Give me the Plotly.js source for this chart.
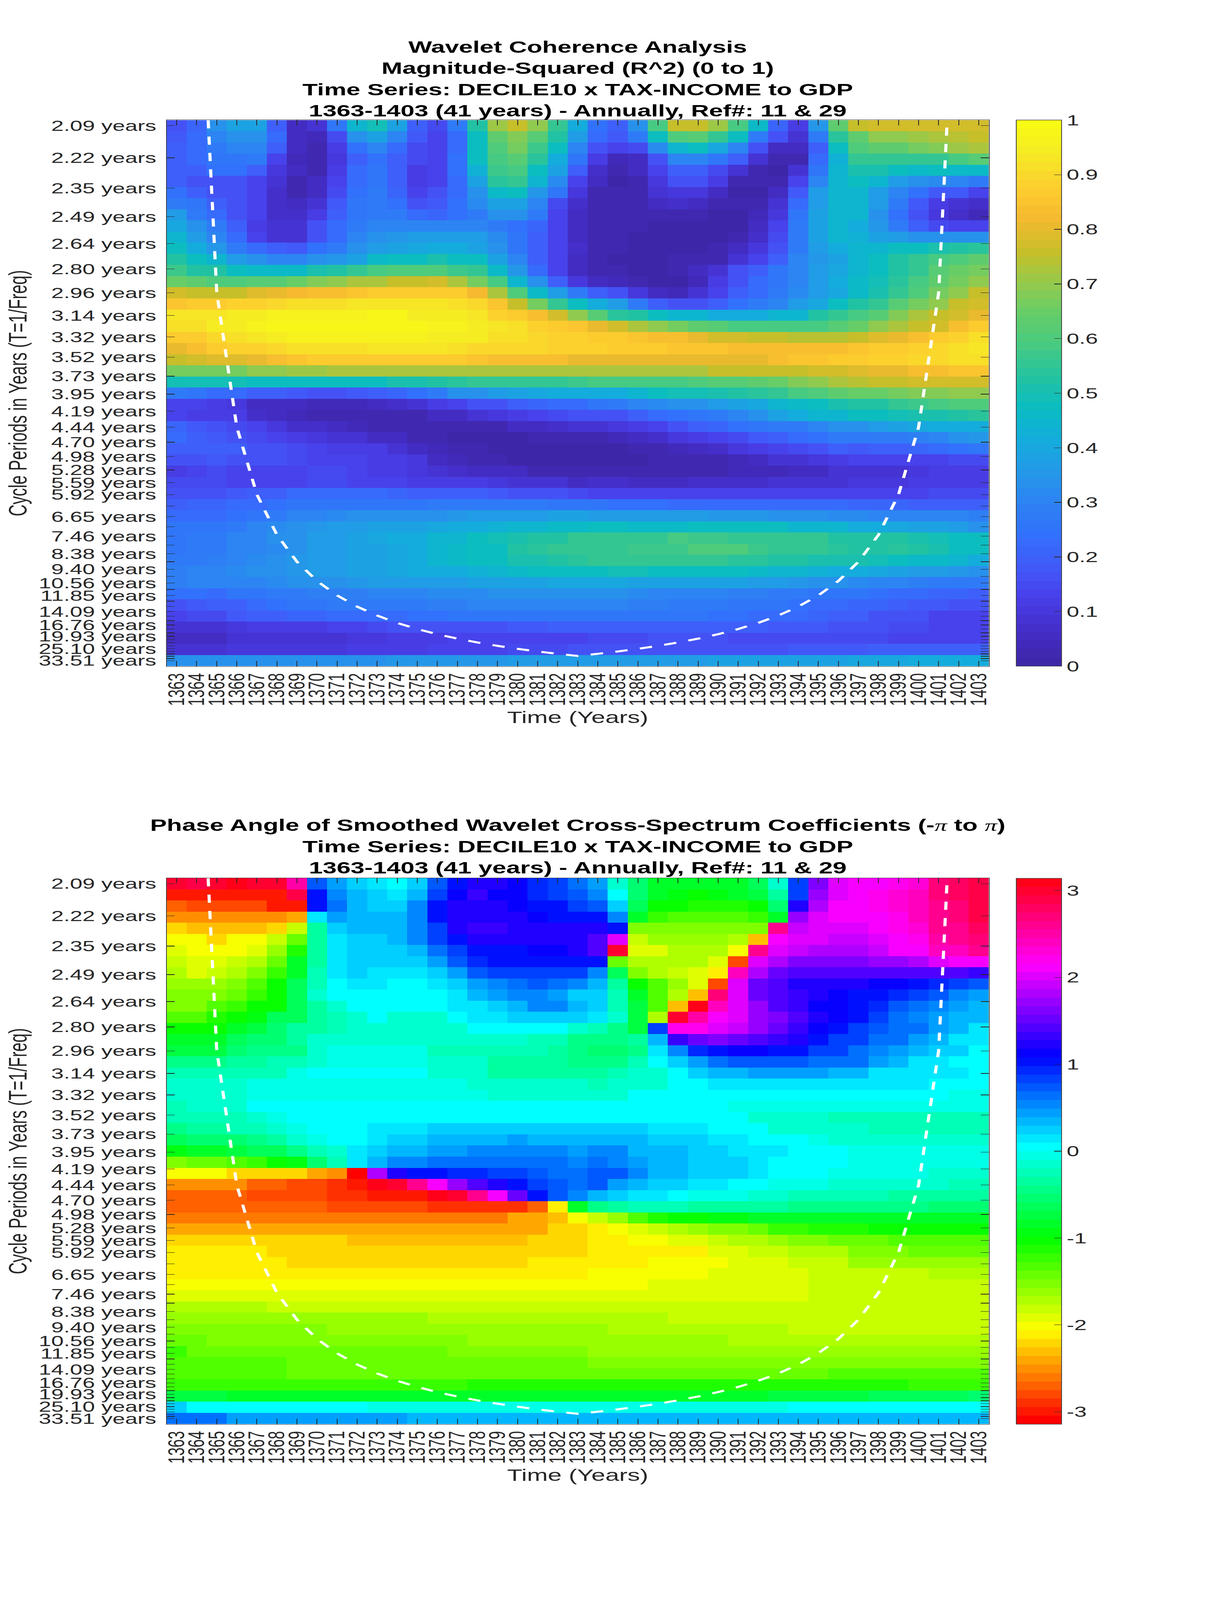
<!DOCTYPE html>
<html>
<head>
<meta charset="utf-8">
<script src="https://cdn.plot.ly/plotly-3.0.1.min.js"></script>
<style>html,body{margin:0;padding:0;background:#fff;overflow:hidden}</style>
</head>
<body>
<div id="chart" style="width:3125px;height:6252px;transform-origin:0 0"></div>
<script>
const years=[1363,1364,1365,1366,1367,1368,1369,1370,1371,1372,1373,1374,1375,1376,1377,1378,1379,1380,1381,1382,1383,1384,1385,1386,1387,1388,1389,1390,1391,1392,1393,1394,1395,1396,1397,1398,1399,1400,1401,1402,1403];
const periods=[2.094,2.219,2.351,2.491,2.639,2.796,2.962,3.138,3.325,3.523,3.732,3.954,4.189,4.438,4.702,4.982,5.278,5.592,5.925,6.277,6.650,7.046,7.465,7.909,8.378,8.876,9.404,9.963,10.556,11.183,11.848,12.553,13.299,14.090,14.928,15.816,16.756,17.752,18.808,19.927,21.112,22.368,23.698,25.107,26.600,28.182,29.858,31.634,33.515];
const periodLabels=["2.09 years","2.22 years","2.35 years","2.49 years","2.64 years","2.80 years","2.96 years","3.14 years","3.32 years","3.52 years","3.73 years","3.95 years","4.19 years","4.44 years","4.70 years","4.98 years","5.28 years","5.59 years","5.92 years","","6.65 years","","7.46 years","","8.38 years","","9.40 years","","10.56 years","","11.85 years","","","14.09 years","","","16.76 years","","","19.93 years","","","","25.10 years","","","","","33.51 years"];
const coiYears=[1364.57,1365,1366,1367,1368,1369,1370,1371,1372,1373,1374,1375,1376,1377,1378,1379,1380,1381,1382,1383,1384,1385,1386,1387,1388,1389,1390,1391,1392,1393,1394,1395,1396,1397,1398,1399,1400,1401,1402];
const coiPeriods=[2.074,2.96,4.44,5.92,7.40,8.88,10.36,11.84,13.32,14.80,16.28,17.76,19.24,20.72,22.20,23.68,25.16,26.64,28.12,29.60,28.12,26.64,25.16,23.68,22.20,20.72,19.24,17.76,16.28,14.80,13.32,11.84,10.36,8.88,7.40,5.92,4.44,2.96,1.48];
const coherence=[
[.17,.21,.33,.39,.38,.2,.05,.08,.25,.45,.49,.38,.19,.15,.27,.53,.71,.76,.7,.56,.41,.24,.2,.33,.59,.75,.76,.71,.58,.46,.21,.11,.35,.63,.76,.77,.77,.77,.77,.78,.78],
[.18,.22,.3,.34,.33,.22,.05,.04,.15,.34,.38,.3,.18,.13,.22,.47,.63,.68,.62,.52,.36,.22,.18,.28,.47,.6,.62,.55,.47,.27,.17,.08,.28,.54,.64,.69,.69,.71,.73,.74,.76],
[.19,.23,.28,.3,.3,.19,.06,.02,.12,.24,.3,.22,.15,.13,.23,.47,.6,.66,.57,.47,.31,.17,.13,.15,.32,.44,.47,.4,.31,.17,.06,.05,.2,.47,.6,.63,.63,.66,.68,.71,.72],
[.19,.23,.25,.26,.27,.13,.04,.02,.1,.2,.24,.2,.15,.14,.24,.47,.58,.61,.54,.42,.26,.12,.04,.05,.17,.3,.3,.25,.2,.08,.02,.03,.22,.43,.55,.56,.56,.55,.56,.59,.62],
[.2,.2,.24,.24,.2,.1,.05,.03,.12,.22,.26,.2,.12,.13,.24,.43,.57,.59,.48,.38,.2,.07,.03,.05,.13,.2,.2,.15,.08,.03,.01,.09,.26,.45,.5,.5,.47,.46,.47,.46,.46],
[.19,.16,.16,.17,.14,.08,.03,.05,.14,.22,.26,.2,.11,.13,.22,.39,.54,.55,.45,.32,.14,.05,.01,.03,.1,.16,.16,.11,.03,.02,.03,.14,.31,.45,.47,.44,.37,.33,.32,.3,.28],
[.24,.2,.17,.17,.14,.07,.03,.06,.15,.24,.27,.21,.14,.16,.22,.33,.46,.47,.35,.25,.1,.03,.02,.02,.08,.1,.1,.06,.01,.01,.06,.18,.36,.45,.45,.37,.3,.24,.18,.18,.14],
[.28,.25,.2,.17,.13,.07,.06,.09,.18,.26,.27,.24,.17,.18,.24,.32,.38,.38,.31,.15,.07,.03,.02,.02,.06,.07,.06,.03,.02,.03,.09,.22,.37,.45,.45,.36,.27,.18,.11,.09,.07],
[.36,.28,.22,.17,.13,.07,.07,.12,.2,.26,.27,.27,.23,.21,.24,.28,.33,.33,.27,.13,.05,.03,.02,.02,.03,.03,.02,.01,.01,.04,.1,.25,.38,.45,.44,.34,.24,.16,.1,.07,.04],
[.4,.33,.27,.2,.12,.08,.08,.16,.22,.28,.31,.31,.31,.31,.31,.31,.27,.24,.21,.13,.05,.03,.02,.02,.01,.01,.01,.01,.01,.05,.13,.28,.39,.45,.42,.35,.28,.2,.15,.13,.13],
[.44,.37,.3,.22,.14,.09,.09,.17,.23,.3,.34,.35,.36,.36,.36,.37,.32,.26,.2,.13,.05,.03,.02,.01,.01,.01,.01,.01,.02,.07,.15,.28,.39,.45,.43,.39,.36,.34,.34,.33,.33],
[.48,.42,.35,.28,.23,.19,.18,.24,.28,.33,.37,.39,.4,.41,.41,.39,.34,.26,.2,.14,.07,.03,.02,.01,.01,.01,.01,.03,.05,.1,.17,.28,.36,.41,.44,.45,.47,.48,.51,.53,.54],
[.53,.47,.45,.37,.33,.3,.3,.33,.35,.39,.46,.47,.48,.5,.48,.47,.38,.3,.2,.13,.06,.03,.01,.01,.01,.02,.03,.03,.08,.14,.2,.3,.35,.38,.44,.47,.52,.55,.58,.6,.63],
[.57,.52,.52,.47,.46,.46,.46,.5,.53,.55,.59,.6,.6,.6,.57,.55,.46,.35,.22,.13,.06,.03,.02,.01,.01,.02,.05,.09,.16,.2,.26,.31,.36,.4,.45,.47,.53,.56,.62,.65,.67],
[.65,.63,.6,.6,.62,.62,.65,.68,.7,.73,.73,.76,.76,.77,.72,.66,.58,.45,.33,.2,.1,.06,.04,.02,.01,.01,.04,.11,.16,.22,.26,.31,.37,.42,.46,.49,.54,.59,.64,.66,.69],
[.77,.76,.76,.76,.79,.8,.82,.83,.84,.85,.86,.87,.87,.87,.86,.82,.72,.6,.46,.37,.27,.2,.16,.1,.05,.04,.08,.13,.19,.23,.27,.32,.37,.4,.46,.51,.55,.6,.66,.7,.75],
[.85,.86,.87,.88,.89,.9,.92,.92,.92,.93,.93,.93,.93,.93,.92,.9,.85,.76,.66,.55,.48,.42,.36,.28,.2,.17,.17,.2,.24,.27,.31,.37,.4,.47,.52,.56,.62,.66,.7,.75,.77],
[.93,.93,.93,.94,.94,.96,.96,.96,.96,.96,.97,.97,.95,.95,.95,.93,.89,.86,.84,.78,.7,.62,.54,.52,.48,.45,.44,.42,.42,.42,.44,.45,.52,.55,.58,.62,.68,.72,.76,.78,.81],
[.91,.92,.94,.94,.96,.97,.97,.98,.98,.98,.98,.98,.97,.96,.96,.94,.93,.91,.89,.87,.85,.8,.77,.72,.69,.66,.63,.61,.59,.58,.58,.58,.58,.61,.65,.69,.73,.76,.77,.83,.86],
[.86,.87,.9,.91,.93,.95,.96,.96,.96,.96,.96,.96,.96,.95,.95,.94,.92,.91,.9,.89,.88,.87,.87,.85,.84,.83,.81,.78,.77,.76,.75,.74,.74,.74,.76,.79,.81,.84,.86,.88,.92],
[.81,.84,.87,.88,.88,.9,.91,.92,.92,.92,.93,.93,.93,.93,.91,.9,.9,.9,.9,.89,.89,.88,.87,.86,.86,.85,.85,.85,.84,.83,.83,.83,.84,.84,.85,.86,.87,.88,.9,.92,.93],
[.76,.77,.79,.79,.81,.84,.85,.87,.87,.87,.87,.87,.87,.87,.86,.85,.84,.84,.83,.83,.81,.81,.81,.8,.8,.8,.8,.8,.81,.81,.83,.85,.85,.86,.87,.89,.89,.9,.9,.91,.91],
[.66,.66,.67,.67,.7,.7,.71,.71,.72,.72,.72,.73,.73,.73,.73,.73,.73,.73,.73,.73,.72,.73,.73,.73,.73,.73,.73,.75,.75,.76,.76,.76,.77,.78,.79,.81,.81,.84,.84,.85,.85],
[.49,.49,.49,.49,.48,.48,.47,.47,.47,.48,.48,.5,.5,.52,.54,.55,.56,.56,.56,.56,.57,.58,.58,.59,.59,.59,.6,.62,.62,.64,.65,.68,.7,.72,.74,.75,.76,.77,.77,.77,.77],
[.28,.25,.22,.22,.2,.2,.18,.17,.17,.18,.19,.21,.24,.27,.33,.34,.36,.38,.4,.42,.42,.42,.42,.45,.47,.49,.49,.51,.53,.54,.55,.58,.6,.63,.65,.65,.67,.68,.68,.69,.7],
[.14,.13,.12,.1,.06,.05,.05,.04,.04,.04,.05,.07,.09,.12,.14,.16,.17,.2,.21,.22,.23,.26,.27,.3,.32,.34,.34,.37,.39,.4,.44,.46,.47,.5,.52,.53,.55,.57,.59,.6,.6],
[.13,.12,.12,.11,.07,.05,.04,.03,.02,.02,.02,.03,.03,.05,.06,.08,.1,.11,.13,.15,.17,.17,.17,.2,.22,.24,.26,.28,.31,.34,.38,.41,.44,.45,.47,.48,.49,.5,.5,.52,.54],
[.21,.18,.17,.15,.14,.1,.07,.07,.05,.04,.03,.02,.02,.02,.02,.03,.03,.05,.05,.07,.08,.08,.1,.12,.14,.17,.2,.21,.24,.25,.27,.28,.3,.33,.34,.37,.38,.4,.41,.42,.42],
[.22,.2,.18,.17,.15,.14,.12,.1,.09,.08,.06,.05,.03,.02,.01,.01,.01,.01,.02,.02,.03,.03,.04,.05,.07,.1,.12,.14,.15,.18,.2,.22,.24,.27,.27,.27,.28,.29,.31,.33,.35],
[.2,.2,.2,.19,.17,.16,.15,.13,.12,.12,.11,.08,.06,.04,.02,.02,.01,.01,.01,.01,.01,.01,.01,.03,.03,.04,.05,.07,.1,.11,.14,.15,.17,.19,.18,.19,.2,.21,.23,.24,.25],
[.17,.17,.18,.17,.16,.16,.15,.14,.14,.13,.12,.11,.1,.06,.04,.03,.03,.01,.01,.01,.01,.01,.01,.01,.02,.02,.02,.03,.04,.06,.08,.09,.1,.12,.13,.13,.14,.14,.14,.15,.15],
[.12,.14,.15,.13,.13,.13,.14,.15,.15,.13,.12,.11,.1,.09,.07,.06,.05,.05,.03,.03,.02,.02,.03,.03,.03,.03,.03,.03,.04,.04,.04,.06,.06,.09,.08,.09,.09,.1,.11,.11,.12],
[.15,.15,.15,.14,.14,.14,.14,.15,.15,.14,.14,.13,.12,.12,.11,.11,.1,.09,.09,.08,.06,.07,.07,.06,.06,.06,.07,.07,.07,.07,.08,.08,.08,.09,.1,.1,.1,.11,.11,.12,.12],
[.17,.17,.17,.18,.19,.2,.22,.22,.22,.22,.22,.21,.2,.2,.2,.19,.18,.17,.16,.16,.15,.14,.13,.13,.13,.13,.13,.13,.13,.13,.14,.14,.14,.14,.14,.14,.14,.14,.15,.15,.15],
[.2,.21,.21,.22,.23,.24,.26,.26,.26,.26,.26,.26,.26,.27,.27,.27,.27,.27,.27,.26,.25,.25,.24,.24,.24,.23,.23,.23,.23,.22,.22,.22,.22,.22,.21,.21,.21,.2,.2,.2,.19],
[.22,.22,.23,.24,.26,.28,.3,.31,.32,.33,.34,.34,.34,.34,.35,.36,.37,.37,.37,.38,.38,.37,.36,.36,.36,.36,.36,.35,.35,.35,.34,.34,.33,.32,.32,.31,.31,.3,.3,.3,.29],
[.25,.25,.26,.27,.3,.32,.34,.35,.36,.37,.38,.39,.39,.4,.41,.41,.43,.44,.45,.46,.46,.47,.47,.46,.46,.46,.47,.47,.47,.47,.47,.45,.45,.44,.42,.41,.4,.38,.38,.36,.34],
[.26,.27,.28,.3,.31,.33,.34,.36,.37,.38,.4,.41,.42,.45,.45,.47,.49,.51,.52,.53,.55,.56,.56,.56,.56,.58,.57,.57,.56,.56,.55,.55,.55,.53,.53,.53,.53,.5,.49,.47,.47],
[.25,.27,.28,.3,.31,.32,.34,.36,.37,.38,.39,.4,.42,.45,.46,.47,.48,.52,.54,.55,.56,.56,.56,.57,.57,.57,.6,.6,.6,.57,.56,.56,.55,.54,.53,.53,.54,.52,.51,.48,.47],
[.27,.28,.29,.31,.32,.33,.35,.36,.37,.38,.39,.4,.42,.45,.46,.47,.48,.5,.51,.53,.54,.55,.55,.55,.55,.55,.55,.55,.54,.54,.53,.53,.51,.5,.5,.49,.47,.46,.46,.44,.42],
[.29,.3,.31,.32,.33,.34,.35,.36,.37,.38,.39,.4,.41,.41,.42,.43,.45,.46,.47,.48,.48,.48,.49,.49,.48,.48,.47,.47,.47,.46,.45,.45,.43,.42,.41,.4,.39,.37,.36,.35,.34],
[.29,.3,.3,.31,.31,.32,.33,.33,.34,.35,.36,.36,.37,.37,.37,.38,.39,.39,.39,.4,.4,.4,.4,.39,.39,.38,.38,.38,.38,.37,.36,.35,.34,.33,.32,.31,.3,.29,.28,.28,.27],
[.24,.24,.23,.25,.26,.27,.28,.29,.29,.29,.3,.31,.31,.32,.32,.32,.33,.33,.33,.33,.33,.33,.33,.32,.31,.31,.31,.3,.29,.29,.28,.27,.26,.25,.25,.24,.23,.22,.21,.21,.2],
[.17,.18,.19,.2,.22,.24,.25,.26,.27,.27,.27,.28,.28,.29,.29,.3,.3,.3,.3,.3,.3,.3,.3,.29,.29,.28,.28,.27,.26,.26,.25,.24,.23,.22,.21,.21,.2,.18,.18,.17,.17],
[.14,.15,.15,.18,.19,.2,.21,.21,.22,.22,.23,.23,.24,.24,.25,.25,.25,.26,.26,.26,.26,.26,.26,.26,.25,.25,.25,.24,.24,.23,.22,.22,.21,.19,.19,.17,.16,.16,.14,.14,.13],
[.08,.08,.09,.1,.11,.11,.12,.12,.13,.14,.15,.16,.16,.17,.17,.17,.17,.18,.18,.19,.19,.19,.19,.19,.19,.19,.19,.19,.19,.19,.18,.18,.18,.17,.16,.16,.15,.15,.13,.13,.13],
[.06,.06,.06,.08,.08,.08,.08,.09,.09,.1,.1,.11,.11,.12,.13,.13,.14,.14,.14,.14,.14,.15,.15,.15,.16,.16,.16,.16,.15,.15,.15,.15,.15,.15,.15,.15,.14,.14,.14,.14,.14],
[.09,.09,.09,.1,.1,.1,.1,.1,.1,.11,.11,.12,.12,.13,.13,.14,.14,.15,.15,.15,.16,.17,.17,.17,.17,.17,.17,.17,.17,.17,.17,.18,.18,.18,.18,.19,.19,.19,.19,.19,.19],
[.33,.33,.33,.33,.33,.33,.33,.34,.34,.34,.34,.35,.35,.35,.35,.35,.35,.36,.36,.36,.36,.37,.37,.37,.37,.37,.37,.38,.38,.38,.38,.39,.39,.39,.4,.4,.4,.41,.41,.41,.41]
];
const phase=[
[3,2.9,3,3.05,3,3,2.5,.7,.4,.25,.12,.02,.22,.7,1.05,1.2,1.2,1.12,.98,.8,.6,.42,-.1,-.5,-.8,-.8,-.85,-.85,-.85,-.65,-.12,.85,1.65,2.05,2.1,2.15,2.2,2.35,2.7,2.75,2.85],
[-3,-3,-3,-3,-3,-3,2.9,1,.5,.3,.2,.1,.3,.85,1.12,1.3,1.17,1.1,.95,.85,.75,.5,0,-.55,-.8,-.9,-1,-.9,-.85,-.7,-.3,.85,1.7,2.05,2.15,2.2,2.3,2.45,2.7,2.8,2.88],
[-2.7,-2.8,-2.8,-2.8,-2.8,-2.95,-2.95,1.05,.6,.35,.22,.22,.52,1,1.25,1.25,1.2,1.12,1.05,1,.85,.7,.25,-.65,-1,-1.03,-1.1,-1.1,-1.1,-1.05,-.55,1.2,1.85,2.1,2.1,2.2,2.35,2.45,2.65,2.72,2.88],
[-2.5,-2.55,-2.55,-2.55,-2.55,-2.55,-2.45,.12,.42,.3,.3,.3,.52,1.05,1.25,1.25,1.2,1.2,1.15,1.05,1.05,1,.52,-.85,-1.2,-1.28,-1.3,-1.3,-1.3,-1.2,-.8,1.7,2,2.1,2.1,2.15,2.25,2.4,2.6,2.72,2.88],
[-2.2,-2.3,-2.3,-2.3,-2.3,-2.2,-1.8,-.3,.25,.3,.3,.3,.52,.8,1.2,1.3,1.3,1.25,1.25,1.25,1.25,1.2,1.05,-1.55,-1.55,-1.55,-1.55,-1.55,-1.55,-1.5,2.6,1.95,2,2.05,2.05,2.1,2.2,2.35,2.6,2.65,2.8],
[-2.05,-2.05,-2.2,-2.05,-2.05,-1.8,-1.4,-.35,.1,.22,.2,.3,.52,.8,1.05,1.2,1.2,1.2,1.2,1.2,1.2,1.4,2,-1.8,-1.65,-1.65,-1.65,-1.65,-1.7,-2.3,2.15,2,2,1.95,1.95,2.05,2.1,2.25,2.5,2.6,2.7],
[-1.9,-2.05,-2.05,-2.05,-1.88,-1.6,-1.1,-.38,.1,.2,.2,.2,.32,.65,.85,1.05,1.05,1.05,1.1,1.12,1.2,1.4,3,-1.95,-1.88,-1.7,-1.7,-1.7,-2.05,2.6,2,1.9,1.8,1.85,1.85,1.95,2.1,2.15,2.4,2.45,2.6],
[-1.85,-1.95,-1.95,-1.82,-1.7,-1.4,-.85,-.3,.1,.2,.2,.2,.2,.42,.75,.95,1.05,1.05,1.05,1.05,1.05,1.05,-1.4,-1.7,-1.7,-1.7,-1.7,-1.95,-2.75,2.05,1.8,1.65,1.6,1.6,1.6,1.7,1.75,1.85,2.05,2.15,2.15],
[-1.72,-1.88,-1.85,-1.7,-1.5,-1.2,-.8,-.25,.12,.28,.12,.12,.12,.25,.42,.7,.8,.8,.8,.8,.8,.5,-.65,-1.55,-1.68,-1.82,-1.95,-2.1,2.45,1.8,1.55,1.45,1.45,1.45,1.4,1.4,1.4,1.4,1.4,1.4,1.35],
[-1.6,-1.6,-1.6,-1.5,-1.3,-1.05,-.65,-.2,0,.12,.12,0,0,.12,.25,.42,.52,.68,.75,.6,.5,.3,-.3,-1.03,-1.35,-1.62,-1.88,-2.75,2,1.55,1.38,1.25,1.25,1.25,1.2,1.12,1.08,1.03,.95,.8,.72],
[-1.5,-1.5,-1.5,-1.42,-1.25,-1.05,-.65,-.18,0,0,0,0,0,0,.12,.3,.42,.5,.5,.45,.2,.25,-.25,-.8,-1.3,-1.7,-2.3,2.7,2,1.55,1.45,1.35,1.2,1.1,1.05,1.05,.95,.85,.7,.5,.42],
[-1.5,-1.5,-1.35,-1.25,-1.05,-1.05,-.65,-.35,-.15,0,0,0,0,0,.1,.1,.25,.35,.5,.5,.3,.25,-.2,-.7,-1.3,-2.3,3.05,2.45,2,1.7,1.45,1.3,1.15,1.1,1.03,.95,.75,.68,.52,.42,.3],
[-1.3,-1.3,-1.15,-1.03,-.95,-.65,-.6,-.3,-.25,-.1,0,-.1,-.1,-.1,0,.1,.1,.22,.22,.22,.22,.12,-.1,-.7,-1.7,2.95,2.5,2.1,2,1.75,1.6,1.45,1.25,1.15,1.03,.8,.62,.52,.42,.32,.3],
[-1.05,-1.05,-1,-.85,-.72,-.5,-.38,-.3,-.25,-.12,-.12,-.12,-.12,-.12,-.1,0,0,0,0,0,-.1,-.2,-.4,-.7,.8,2.25,2.2,2,1.95,1.75,1.5,1.3,1.1,1.03,.88,.72,.68,.6,.42,.38,.15],
[-.85,-.8,-.8,-.65,-.55,-.5,-.38,-.15,-.15,-.1,-.1,-.1,-.1,-.1,-.1,-.1,-.1,-.1,-.25,-.25,-.4,-.42,-.42,-.3,.35,1.3,1.5,1.62,1.5,1.42,1.35,1.25,1.05,.85,.8,.68,.6,.42,.35,.18,.18],
[-.7,-.7,-.7,-.55,-.4,-.4,-.4,-.1,-.08,-.08,-.08,-.08,-.08,-.22,-.22,-.22,-.22,-.22,-.28,-.3,-.45,-.5,-.5,-.4,.1,.5,.9,1.05,1.12,1.1,1.05,1,.88,.8,.62,.52,.42,.35,.25,.25,.08],
[-.45,-.45,-.45,-.3,-.3,-.25,-.2,-.1,-.08,-.08,-.08,-.08,-.08,-.15,-.15,-.15,-.35,-.35,-.35,-.35,-.45,-.42,-.42,-.25,0,.22,.42,.68,.72,.78,.78,.72,.65,.6,.6,.48,.35,.18,.18,.08,.08],
[-.28,-.28,-.2,-.2,-.2,-.2,-.02,0,0,0,0,0,0,-.12,-.12,-.12,-.35,-.35,-.35,-.35,-.35,-.35,-.2,-.1,-.1,.02,.25,.35,.35,.42,.42,.42,.42,.33,.33,.18,.18,.18,.1,.1,0],
[-.15,-.15,-.15,-.15,-.05,-.05,-.05,-.05,-.05,-.05,-.05,-.05,-.05,-.05,-.05,-.15,-.15,-.15,-.15,-.15,-.15,-.25,-.1,-.1,-.1,0,0,.12,.12,.12,.12,.12,.12,.12,.12,.12,.12,.12,0,0,0],
[-.12,-.12,-.12,-.12,-.03,-.03,-.03,-.03,-.03,-.03,-.03,-.03,-.03,-.03,-.03,-.03,-.12,-.12,-.12,-.12,-.12,-.12,-.12,0,0,0,0,0,0,0,0,0,0,0,0,0,0,0,0,-.03,-.03],
[-.25,-.1,-.1,-.1,0,0,0,0,0,0,.05,.05,.05,.05,.05,.05,.05,.05,.05,.05,.05,0,0,0,0,0,0,0,-.08,-.08,-.08,-.08,-.08,-.08,-.08,-.08,-.08,-.08,-.08,-.08,-.08],
[-.28,-.2,-.2,-.2,-.1,-.08,0,0,0,.02,.02,.02,.08,.08,.08,.08,.08,.08,.08,.08,.08,.08,.08,.08,.08,0,0,0,0,-.15,-.15,-.15,-.15,-.28,-.28,-.28,-.28,-.28,-.28,-.28,-.28],
[-.42,-.35,-.35,-.28,-.25,-.1,-.02,0,0,0,.12,.12,.12,.2,.2,.2,.2,.2,.2,.2,.2,.2,.2,.2,.12,.12,.12,0,0,0,-.12,-.12,-.12,-.12,-.12,-.28,-.28,-.28,-.28,-.28,-.28],
[-.65,-.55,-.55,-.55,-.45,-.3,-.15,-.05,0,0,.15,.25,.25,.33,.33,.33,.33,.4,.3,.3,.3,.33,.33,.33,.28,.28,.28,.12,.12,.02,0,0,-.05,-.1,-.12,-.12,-.12,-.12,-.12,-.12,-.12],
[-.9,-.85,-.8,-.7,-.65,-.6,-.45,-.25,-.1,.15,.25,.35,.35,.42,.42,.5,.5,.5,.5,.5,.42,.5,.5,.35,.35,.35,.25,.25,.12,.12,.1,0,0,0,-.05,-.06,-.06,-.06,-.06,-.06,-.06],
[-1.5,-1.42,-1.42,-1.3,-1.2,-1.05,-.95,-.55,-.25,.18,.35,.5,.52,.65,.65,.65,.65,.65,.65,.65,.55,.6,.5,.48,.33,.33,.25,.25,.25,.12,.05,0,0,0,-.05,-.06,-.06,-.06,-.06,-.06,-.06],
[-2.05,-2.05,-2.05,-2.18,-2.18,-2.18,-2.18,-2.38,-2.55,-3.1,1.78,1.25,1.05,1,.92,.92,.85,.85,.7,.68,.6,.7,.7,.5,.38,.38,.25,.25,.2,.18,0,0,0,-.06,-.06,-.06,-.06,-.06,-.15,-.15,-.15],
[-2.55,-2.55,-2.55,-2.55,-2.68,-2.68,-2.75,-2.75,-2.88,-3,3.14,2.95,2.6,2.1,1.72,1.4,1.2,1.05,.8,.72,.62,.7,.45,.35,.22,.22,.12,.12,0,0,-.06,-.06,-.06,-.18,-.18,-.18,-.18,-.18,-.18,-.2,-.2],
[-2.7,-2.7,-2.7,-2.7,-2.75,-2.75,-2.75,-2.75,-2.88,-2.88,-2.95,-2.95,-3.02,3.14,2.95,2.65,2.1,1.55,1.05,.7,.5,.35,.22,.12,.12,0,-.05,-.05,-.05,-.18,-.18,-.28,-.28,-.28,-.28,-.28,-.3,-.3,-.3,-.32,-.32],
[-2.7,-2.7,-2.7,-2.7,-2.68,-2.68,-2.68,-2.68,-2.8,-2.8,-2.8,-2.8,-2.8,-2.88,-2.88,-2.88,-2.88,-2.88,-2.7,-2.1,-.85,-.4,-.38,-.28,-.28,-.28,-.33,-.33,-.33,-.33,-.33,-.42,-.42,-.42,-.42,-.42,-.42,-.45,-.5,-.5,-.52],
[-2.58,-2.58,-2.58,-2.58,-2.58,-2.58,-2.58,-2.58,-2.58,-2.58,-2.58,-2.58,-2.58,-2.58,-2.58,-2.58,-2.58,-2.45,-2.45,-2.3,-2.05,-1.85,-1.6,-1.3,-1.1,-1.03,-1.03,-.95,-.95,-.85,-.85,-.85,-.85,-.85,-.85,-.85,-.85,-.85,-.85,-.85,-.85],
[-2.38,-2.38,-2.38,-2.38,-2.38,-2.38,-2.38,-2.38,-2.38,-2.45,-2.45,-2.45,-2.45,-2.45,-2.45,-2.45,-2.45,-2.38,-2.38,-2.25,-2.25,-2.15,-2,-1.9,-1.8,-1.72,-1.65,-1.5,-1.48,-1.38,-1.25,-1.18,-1.15,-1.15,-1.15,-1.05,-1.05,-1.05,-1.05,-1.05,-1.05],
[-2.2,-2.2,-2.2,-2.2,-2.2,-2.2,-2.2,-2.2,-2.2,-2.35,-2.35,-2.35,-2.35,-2.35,-2.35,-2.35,-2.35,-2.35,-2.25,-2.25,-2.25,-2.15,-2.15,-2.05,-2.05,-1.9,-1.9,-1.85,-1.72,-1.72,-1.6,-1.5,-1.5,-1.4,-1.4,-1.4,-1.28,-1.28,-1.28,-1.28,-1.28],
[-2.08,-2.08,-2.08,-2.08,-2.08,-2.18,-2.18,-2.18,-2.18,-2.18,-2.18,-2.18,-2.18,-2.18,-2.18,-2.18,-2.18,-2.18,-2.2,-2.2,-2.2,-2.15,-2.15,-2.15,-2.08,-2.08,-2.08,-1.95,-1.95,-1.82,-1.82,-1.68,-1.68,-1.68,-1.52,-1.52,-1.52,-1.42,-1.42,-1.42,-1.42],
[-2.08,-2.08,-2.08,-2.08,-2.08,-2.08,-2.18,-2.18,-2.18,-2.18,-2.18,-2.18,-2.18,-2.18,-2.18,-2.18,-2.18,-2.18,-2.08,-2.08,-2.08,-2.1,-2.1,-2.1,-2.03,-2.03,-2.03,-2.03,-1.95,-1.95,-1.95,-1.82,-1.82,-1.82,-1.65,-1.65,-1.65,-1.65,-1.65,-1.6,-1.6],
[-2.08,-2.08,-2.08,-2.08,-2.08,-2.08,-2.08,-2.08,-2.08,-2.08,-2.08,-2.08,-2.08,-2.08,-2.08,-2.08,-2.08,-2.08,-2.08,-2.08,-2.08,-2.03,-2.03,-2.03,-2.03,-2.03,-2.03,-1.93,-1.93,-1.93,-1.93,-1.93,-1.85,-1.85,-1.85,-1.85,-1.85,-1.85,-1.7,-1.7,-1.7],
[-2.03,-2.03,-2.03,-2.03,-2.03,-2.03,-2.03,-2.03,-2.03,-2.03,-2.03,-2.03,-2.03,-2.03,-2.03,-2.03,-2.03,-2.03,-2.03,-2.03,-2.03,-2,-2,-2,-1.95,-1.95,-1.95,-1.95,-1.95,-1.95,-1.95,-1.95,-1.85,-1.85,-1.85,-1.85,-1.85,-1.85,-1.85,-1.85,-1.85],
[-1.95,-1.95,-1.95,-1.95,-1.95,-1.95,-1.95,-1.95,-1.95,-1.95,-1.95,-1.95,-1.95,-1.95,-1.95,-1.95,-1.95,-1.95,-1.95,-1.95,-1.95,-1.95,-1.95,-1.95,-1.95,-1.95,-1.95,-1.95,-1.95,-1.87,-1.87,-1.87,-1.85,-1.85,-1.85,-1.85,-1.85,-1.85,-1.85,-1.85,-1.85],
[-1.72,-1.72,-1.72,-1.72,-1.72,-1.83,-1.83,-1.83,-1.83,-1.83,-1.83,-1.83,-1.83,-1.83,-1.83,-1.83,-1.83,-1.83,-1.83,-1.83,-1.83,-1.83,-1.83,-1.83,-1.83,-1.83,-1.83,-1.83,-1.83,-1.83,-1.83,-1.83,-1.83,-1.83,-1.83,-1.83,-1.83,-1.83,-1.83,-1.83,-1.83],
[-1.6,-1.6,-1.6,-1.65,-1.65,-1.65,-1.65,-1.65,-1.65,-1.65,-1.65,-1.65,-1.65,-1.72,-1.72,-1.72,-1.72,-1.72,-1.72,-1.72,-1.72,-1.72,-1.72,-1.72,-1.72,-1.8,-1.8,-1.8,-1.8,-1.8,-1.8,-1.8,-1.8,-1.8,-1.8,-1.8,-1.8,-1.8,-1.8,-1.8,-1.8],
[-1.52,-1.52,-1.52,-1.52,-1.52,-1.52,-1.52,-1.52,-1.58,-1.58,-1.58,-1.58,-1.58,-1.58,-1.58,-1.62,-1.62,-1.62,-1.62,-1.62,-1.62,-1.65,-1.7,-1.7,-1.7,-1.7,-1.7,-1.7,-1.7,-1.7,-1.7,-1.78,-1.78,-1.78,-1.78,-1.78,-1.78,-1.78,-1.78,-1.78,-1.78],
[-1.42,-1.42,-1.5,-1.5,-1.5,-1.5,-1.5,-1.5,-1.5,-1.55,-1.55,-1.55,-1.55,-1.55,-1.55,-1.58,-1.58,-1.58,-1.58,-1.58,-1.58,-1.63,-1.63,-1.63,-1.63,-1.63,-1.63,-1.63,-1.7,-1.7,-1.7,-1.7,-1.7,-1.7,-1.7,-1.7,-1.7,-1.7,-1.7,-1.7,-1.7],
[-1.25,-1.38,-1.38,-1.38,-1.38,-1.38,-1.38,-1.42,-1.42,-1.42,-1.42,-1.42,-1.42,-1.42,-1.5,-1.5,-1.5,-1.5,-1.5,-1.5,-1.55,-1.6,-1.6,-1.6,-1.6,-1.6,-1.6,-1.6,-1.6,-1.65,-1.65,-1.65,-1.65,-1.65,-1.65,-1.65,-1.65,-1.65,-1.65,-1.65,-1.65],
[-1.32,-1.32,-1.32,-1.32,-1.32,-1.32,-1.38,-1.38,-1.38,-1.38,-1.38,-1.38,-1.38,-1.38,-1.38,-1.38,-1.45,-1.45,-1.45,-1.45,-1.45,-1.5,-1.5,-1.5,-1.5,-1.5,-1.5,-1.5,-1.5,-1.5,-1.5,-1.5,-1.5,-1.5,-1.5,-1.5,-1.5,-1.5,-1.5,-1.5,-1.5],
[-1.3,-1.3,-1.3,-1.3,-1.3,-1.3,-1.38,-1.38,-1.38,-1.38,-1.38,-1.38,-1.38,-1.38,-1.38,-1.38,-1.38,-1.38,-1.38,-1.38,-1.38,-1.38,-1.38,-1.38,-1.38,-1.38,-1.38,-1.38,-1.38,-1.38,-1.38,-1.38,-1.38,-1.3,-1.3,-1.3,-1.3,-1.3,-1.3,-1.3,-1.3],
[-1.2,-1.2,-1.2,-1.2,-1.2,-1.2,-1.25,-1.25,-1.25,-1.25,-1.25,-1.25,-1.25,-1.25,-1.25,-1.15,-1.15,-1.15,-1.15,-1.15,-1.15,-1.12,-1.12,-1.12,-1.12,-1.12,-1.12,-1.12,-1.12,-1.12,-1.12,-1.12,-1.12,-1.12,-1.12,-1.12,-1.12,-1.18,-1.18,-1.18,-1.18],
[-.75,-.75,-.75,-.88,-.88,-.88,-.88,-.88,-.88,-.88,-.88,-.88,-.88,-.88,-.88,-.88,-.88,-.88,-.88,-.88,-.88,-.88,-.88,-.88,-.82,-.82,-.82,-.82,-.82,-.82,-.75,-.75,-.75,-.75,-.75,-.68,-.68,-.68,-.68,-.68,-.52],
[.22,.08,.08,.08,.08,0,0,0,0,0,-.06,-.06,-.06,-.06,-.06,-.06,-.06,-.06,-.06,-.06,-.06,-.06,-.06,-.06,-.06,-.06,-.06,-.06,-.06,-.06,-.06,0,0,0,0,0,0,0,0,.08,.08],
[.62,.62,.62,.48,.48,.48,.48,.48,.48,.48,.48,.48,.38,.38,.38,.38,.38,.38,.38,.38,.38,.38,.38,.38,.38,.38,.38,.38,.38,.38,.38,.38,.38,.38,.38,.38,.38,.38,.38,.38,.38]
];
const cohTicks=[0,.1,.2,.3,.4,.5,.6,.7,.8,.9,1];
const cohTickText=["0","0.1","0.2","0.3","0.4","0.5","0.6","0.7","0.8","0.9","1"];
const phaseTicks=[-3,-2,-1,0,1,2,3];
const parulaKnots=[[62,38,168],[68,46,200],[72,62,232],[66,90,250],[50,112,252],[45,130,243],[36,152,232],[20,172,220],[10,188,195],[35,195,160],[72,202,130],[100,205,105],[150,202,75],[200,190,40],[245,185,48],[253,206,46],[245,232,37],[249,251,21]];
function parulaBand(t){
  const p=t*(parulaKnots.length-1),i=Math.min(Math.floor(p),parulaKnots.length-2),f=p-i;
  const c=parulaKnots[i].map((v,k)=>Math.round(v+(parulaKnots[i+1][k]-v)*f));
  return 'rgb('+c.join(',')+')';
}
function stepped(fn){
  const out=[];
  for(let i=0;i<64;i++){const col=fn(i);out.push([i/64,col]);out.push([(i+1)/64,col]);}
  return out;
}
const parula64=stepped(i=>parulaBand(i/63));
const hsv64=stepped(i=>'hsl('+(360*i/64)+',100%,50%)');

const W=3125,H=6252;
const L=426.5,R=2530.7,T1=469.3,B1=2603.3,T2=3431.3,B2=5564.7;
const cbL=2601.3,cbW=116.4;
const freq=periods.map(p=>1/p);
const fHi=freq[0],fLo=freq[freq.length-1],dF=(fHi-fLo)/(freq.length-1);
const yRange=[fLo-dF/2,fHi+dF/2];
const coiFreq=coiPeriods.map(p=>1/p);
const tc='#262626';
const FAM='"Liberation Sans",Arial,sans-serif';
const TF={family:FAM,size:57.6,color:tc};
const LF={family:FAM,size:64,color:tc};
const BF={family:FAM,size:64,color:'#000'};
function xAxis(anchor){return {domain:[L/W,R/W],range:[years[0]-.5,years[years.length-1]+.5],anchor:anchor,tickmode:'array',tickvals:years,ticktext:years.map(String),tickangle:-90,ticks:'inside',ticklen:20.5,tickwidth:1.6,tickcolor:tc,mirror:'allticks',showline:true,linecolor:'#404040',linewidth:2,showgrid:false,zeroline:false,tickfont:TF,ticklabelstandoff:2,title:{text:'Time (Years)',font:LF,standoff:23}};}
function yAxis(anchor,top,bottom){return {domain:[1-bottom/H,1-top/H],range:yRange,anchor:anchor,tickmode:'array',tickvals:freq,ticktext:periodLabels,ticks:'inside',ticklen:20.5,tickwidth:1.6,tickcolor:tc,mirror:'allticks',showline:true,linecolor:'#404040',linewidth:2,showgrid:false,zeroline:false,tickfont:TF,ticklabelstandoff:13,title:{text:'Cycle Periods in Years (T=1/Freq)',font:LF,standoff:10}};}
function colorbar(top,bottom,vals,text){return {x:cbL/W,xanchor:'left',xpad:0,y:1-bottom/H,yanchor:'bottom',ypad:0,lenmode:'fraction',len:(bottom-top)/H,thicknessmode:'pixels',thickness:cbW,outlinewidth:2,outlinecolor:'#404040',ticks:'inside',ticklen:20,tickwidth:1.6,tickcolor:tc,tickmode:'array',tickvals:vals,ticktext:text,tickfont:TF,borderwidth:0};}
const coiLine={color:'#fff',width:8,dash:'32px,32px',simplify:false};
const traces=[
 {type:'heatmap',xaxis:'x',yaxis:'y',x:years,y0:fLo,dy:dF,z:coherence.slice().reverse(),zmin:0,zmax:1,colorscale:parula64,zsmooth:false,colorbar:colorbar(T1,B1,cohTicks,cohTickText),hoverinfo:'skip'},
 {type:'scatter',mode:'lines',xaxis:'x',yaxis:'y',x:coiYears,y:coiFreq,line:coiLine,showlegend:false,hoverinfo:'skip'},
 {type:'heatmap',xaxis:'x2',yaxis:'y2',x:years,y0:fLo,dy:dF,z:phase.slice().reverse(),zmin:-Math.PI,zmax:Math.PI,colorscale:hsv64,zsmooth:false,colorbar:colorbar(T2,B2,phaseTicks,phaseTicks.map(String)),hoverinfo:'skip'},
 {type:'scatter',mode:'lines',xaxis:'x2',yaxis:'y2',x:coiYears,y:coiFreq,line:coiLine,showlegend:false,hoverinfo:'skip'}
];
const pi='<span style="font-family:\'Liberation Serif\',serif;font-style:italic;font-weight:normal">π</span>';
const layout={
 width:W,height:H,margin:{l:0,r:0,t:0,b:0},paper_bgcolor:'#fff',plot_bgcolor:'#fff',showlegend:false,
 title:{text:'<b>Wavelet Coherence Analysis<br>Magnitude-Squared (R^2) (0 to 1)<br>Time Series: DECILE10 x TAX-INCOME to GDP<br>1363-1403 (41 years) - Annually, Ref#: 11 &amp; 29</b>',font:BF,x:(L+R)/2/W,xanchor:'center',xref:'paper',yref:'container',y:1-206/H,yanchor:'bottom'},
 xaxis:xAxis('y'),yaxis:yAxis('x',T1,B1),
 xaxis2:xAxis('y2'),yaxis2:yAxis('x2',T2,B2),
 annotations:[{text:'<b>Phase Angle of Smoothed Wavelet Cross-Spectrum Coefficients (-'+pi+' to '+pi+')<br>Time Series: DECILE10 x TAX-INCOME to GDP<br>1363-1403 (41 years) - Annually, Ref#: 11 &amp; 29</b>',font:BF,xref:'paper',yref:'paper',x:(L+R)/2/W,y:1-3429/H,xanchor:'center',yanchor:'bottom',align:'center',showarrow:false}]
};
const fit=Math.min(1,window.innerHeight/H);
if(fit<1){document.getElementById('chart').style.transform='scale(1,'+fit+')';}
Plotly.newPlot('chart',traces,layout,{displayModeBar:false,responsive:false});
</script>
</body>
</html>
